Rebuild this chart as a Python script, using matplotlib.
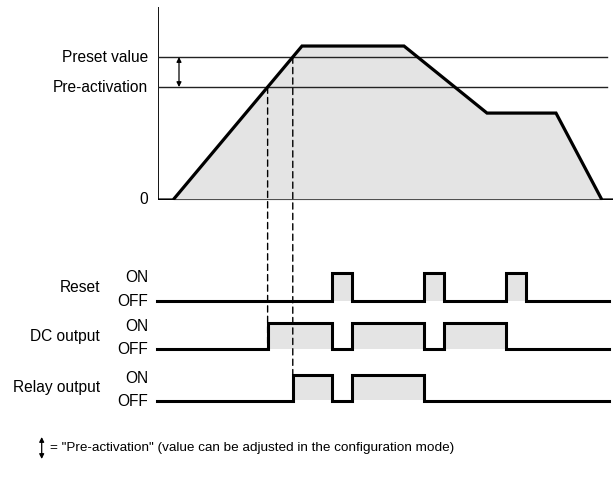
import numpy as np
import matplotlib
matplotlib.use('Agg')
import matplotlib.pyplot as plt
from matplotlib.patches import ConnectionPatch, FancyArrowPatch

plt.rcParams['font.family'] = ['Liberation Sans', 'DejaVu Sans']

# counter value over time (arbitrary units, preset = 100)
t_curve = [0, 15, 144, 246, 329, 398, 444, 454]
v_curve = [0, 0, 107.7, 107.7, 60.8, 60.8, 0, 0]
preset = 100
pre_act = 79
v_top = 135

# reset pulses (start, end)
reset_pulses = [(174, 194), (266, 286), (348, 368)]
t_end = 451

# crossing times on the rising ramp
t_pre = np.interp(pre_act, v_curve[1:3], t_curve[1:3])
t_preset = np.interp(preset, v_curve[1:3], t_curve[1:3])

grey = '#e4e4e4'
W, H = 613, 478
fig = plt.figure(figsize=(W / 100, H / 100), dpi=100)


def px_axes(x0, y_top, x1, y_bot):
    return fig.add_axes([x0 / W, 1 - y_bot / H, (x1 - x0) / W, (y_bot - y_top) / H])


# ---- top chart
ax = px_axes(158, 7, 613, 200)
ax.set_xlim(0, 455)
ax.set_ylim(0, v_top)
ax.axis('off')
ax.fill_between(t_curve, v_curve, color=grey, lw=0)
ax.plot([0, 0], [0, v_top], color='black', lw=1.3, solid_capstyle='butt')
ax.plot([0, 444], [0, 0], color='#333333', lw=1.2, zorder=3)
ax.plot([0, 449], [preset, preset], color='#222222', lw=1.0)
ax.plot([0, 449], [pre_act, pre_act], color='#222222', lw=1.0)
ax.plot(t_curve, v_curve, color='black', lw=2.3, solid_joinstyle='miter', zorder=4)
ax.annotate('', xy=(21, pre_act), xytext=(21, preset),
            arrowprops=dict(arrowstyle='<|-|>', color='black', lw=0.9,
                            mutation_scale=7, shrinkA=0, shrinkB=0))
fs = 11.2
ax.text(-10, preset, 'Preset value', ha='right', va='center', fontsize=fs)
ax.text(-10, pre_act, 'Pre-activation', ha='right', va='center', fontsize=fs)
ax.text(-10, 0, '0', ha='right', va='center', fontsize=fs)

# ---- signals
def signal(times):
    ts, ys = [-1], [0]
    state = 0
    for tt in times:
        ts += [tt, tt]
        ys += [state, 1 - state]
        state = 1 - state
    ts.append(t_end)
    ys.append(state)
    return ts, ys


reset_times = [t for p in reset_pulses for t in p]
dc_times = [t_pre] + reset_times[:-1]
relay_times = [t_preset] + reset_times[:3]

rows = [('Reset', reset_times, 273.3, 300.7),
        ('DC output', dc_times, 323.3, 349.3),
        ('Relay output', relay_times, 375, 400.5)]
sig_axes = []
for name, times, y_on, y_off in rows:
    a = px_axes(158, y_on, 613, y_off)
    a.set_xlim(0, 455)
    a.set_ylim(0, 1)
    a.axis('off')
    ts, ys = signal(times)
    a.fill_between(ts, ys, color=grey, lw=0)
    a.plot(ts, ys, color='black', lw=2.2, solid_joinstyle='miter', clip_on=False)
    a.text(-10, 0.86, 'ON', ha='right', va='center', fontsize=fs)
    a.text(-10, -0.02, 'OFF', ha='right', va='center', fontsize=fs)
    a.text(-58, 0.5, name, ha='right', va='center', fontsize=fs)
    sig_axes.append(a)

# dashed guides
for tt, vv, target in [(t_pre, pre_act, sig_axes[1]), (t_preset, preset, sig_axes[2])]:
    cp = ConnectionPatch((tt, vv), (tt, 0), 'data', 'data', axesA=ax, axesB=target,
                         color='black', lw=1.0, linestyle=(0, (4.5, 3)))
    fig.add_artist(cp)

# footnote
fig.text(50 / W, 1 - 448 / H, '= "Pre-activation" (value can be adjusted in the configuration mode)',
         ha='left', va='center', fontsize=9.7)
fig.add_artist(FancyArrowPatch(
    (41.7 / W, 1 - 437 / H), (41.7 / W, 1 - 459 / H), transform=fig.transFigure,
    arrowstyle='<|-|>', mutation_scale=7, color='black', lw=0.9, shrinkA=0, shrinkB=0))

fig.savefig('out.png', dpi=100)
